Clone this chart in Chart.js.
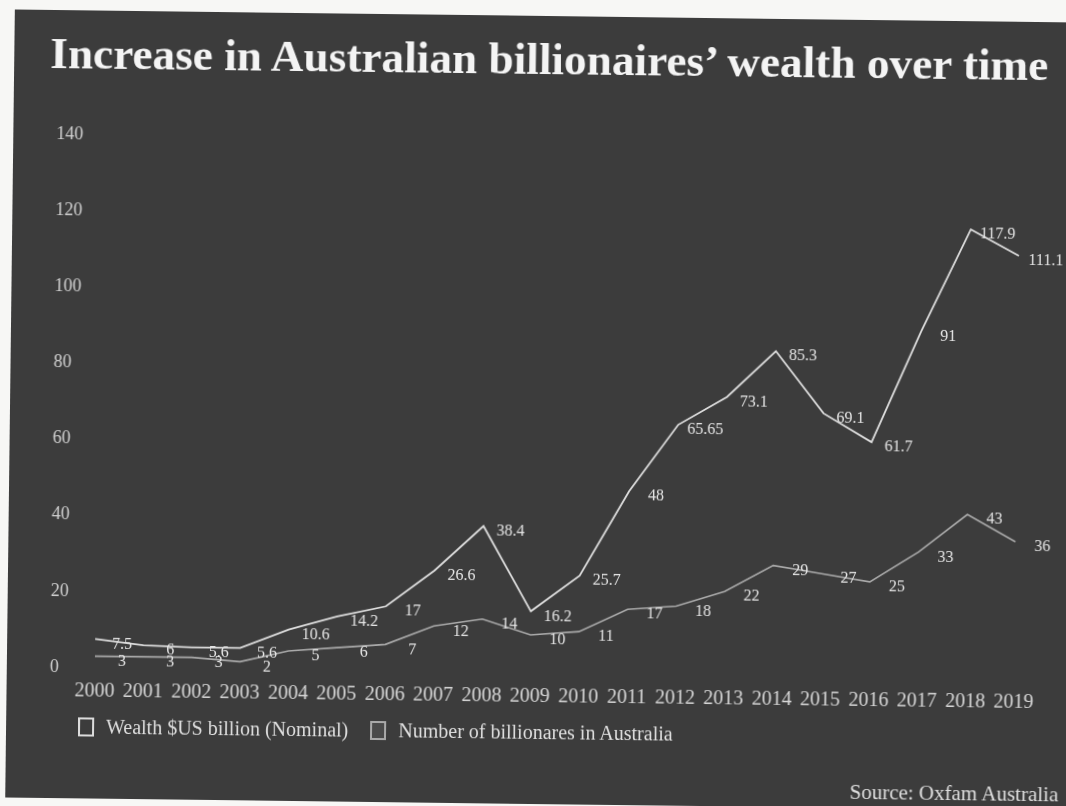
<!DOCTYPE html>
<html lang="en">
<head>
<meta charset="utf-8">
<title>Increase in Australian billionaires’ wealth over time</title>
<script src="https://cdn.jsdelivr.net/npm/chart.js@4.4.1/dist/chart.umd.min.js"></script>
<style>
  html, body {
    margin: 0;
    padding: 0;
    background: #f7f7f5;
    overflow: hidden;
  }
  .lamina {
    position: absolute;
    left: 10px;
    top: 16px;
    width: 1062px;
    height: 788px;
    background: #3c3c3c;
    transform: rotate(0.7deg);
    font-family: "Liberation Serif", "Times New Roman", serif;
  }
  .lamina canvas {
    position: absolute;
    left: 0;
    top: 0;
  }
  .titulo {
    position: absolute;
    left: 36px;
    top: 21px;
    margin: 0;
    font-size: 45.3px;
    font-weight: bold;
    line-height: 45px;
    color: #f4f4f4;
    white-space: nowrap;
  }
  .leyenda {
    position: absolute;
    left: 72px;
    top: 704px;
    display: flex;
    align-items: center;
    font-size: 20px;
    line-height: 24px;
    color: #dedede;
    white-space: nowrap;
  }
  .leyenda .item {
    display: flex;
    align-items: center;
    margin-right: 22px;
  }
  .leyenda .caja {
    display: inline-block;
    width: 12px;
    height: 15px;
    border: 2px solid;
    margin-right: 12px;
  }
  .fuente {
    position: absolute;
    right: 9px;
    top: 760px;
    font-size: 21px;
    line-height: 24px;
    color: #dedede;
  }
</style>
</head>
<body>
<div class="lamina">
  <canvas id="riquezaLineas"></canvas>
  <h1 class="titulo">Increase in Australian billionaires’ wealth over time</h1>
  <div class="leyenda" id="leyenda"></div>
  <div class="fuente">Source: Oxfam Australia</div>
</div>
<script>
let anios = [
  "2000", "2001", "2002", "2003", "2004", "2005", "2006", "2007", "2008", "2009",
  "2010", "2011", "2012", "2013", "2014", "2015", "2016", "2017", "2018", "2019",
];
let riqueza = [
  7.5, 6, 5.6, 5.6, 10.6, 14.2, 17, 26.6, 38.4, 16.2,
  25.7, 48, 65.65, 73.1, 85.3, 69.1, 61.7, 91, 117.9, 111.1,
];
let numeroMillonarios = [
  3, 3, 3, 2, 5, 6, 7, 12, 14, 10,
  11, 17, 18, 22, 29, 27, 25, 33, 43, 36,
];
let marcasY = [0, 20, 40, 60, 80, 100, 120, 140];

const SERIF = "'Liberation Serif', 'Times New Roman', serif";

// numeritos junto a cada punto de las dos lineas
const etiquetasValor = {
  id: "etiquetasValor",
  afterDatasetsDraw(chart) {
    let ctx = chart.ctx;
    ctx.save();
    ctx.font = "16px " + SERIF;
    ctx.fillStyle = "#e4e4e4";
    ctx.textAlign = "center";
    ctx.textBaseline = "middle";
    chart.data.datasets.forEach((ds, i) => {
      chart.getDatasetMeta(i).data.forEach((pt, j) => {
        ctx.fillText(String(ds.data[j]), pt.x + 27, pt.y + 5);
      });
    });
    ctx.restore();
  },
};

// leyenda en html, con los colores de cada serie
function pintarLeyenda(chart) {
  let cont = document.getElementById("leyenda");
  if (!cont) return;
  cont.innerHTML = "";
  chart.data.datasets.forEach((ds) => {
    let item = document.createElement("span");
    item.className = "item";
    let caja = document.createElement("span");
    caja.className = "caja";
    caja.style.borderColor = ds.borderColor;
    caja.style.background = ds.backgroundColor;
    item.appendChild(caja);
    item.appendChild(document.createTextNode(ds.label));
    cont.appendChild(item);
  });
}

function cargarGraficoRiqueza() {
  let canvas = document.getElementById("riquezaLineas");
  if (!canvas) return;

  let datos = {
    labels: anios,
    datasets: [
      {
        label: "Wealth $US billion (Nominal)",
        data: riqueza,
        borderColor: "#dcdcdc",
        backgroundColor: "rgba(0,0,0,0)",
        borderWidth: 1.8,
        tension: 0,
        fill: false,
        pointRadius: 0,
      },
      {
        label: "Number of billionares in Australia",
        data: numeroMillonarios,
        borderColor: "#a9a9a9",
        backgroundColor: "#4a4a4a",
        borderWidth: 1.6,
        tension: 0,
        fill: false,
        pointRadius: 0,
      },
    ],
  };

  let config = {
    type: "line",
    data: datos,
    options: {
      responsive: true,
      maintainAspectRatio: false,
      animation: false,
      layout: {
        padding: { left: 43, right: 55, top: 124, bottom: 83 },
      },
      plugins: {
        title: { display: false },
        legend: { display: false },
        tooltip: { enabled: false },
      },
      scales: {
        x: {
          grid: { display: false, drawTicks: false },
          border: { display: false },
          ticks: {
            color: "#d6d6d6",
            font: { family: SERIF, size: 20 },
            padding: 12,
            maxRotation: 0,
            autoSkip: false,
          },
        },
        y: {
          min: 0,
          max: 140,
          afterBuildTicks: (scale) => {
            scale.ticks = marcasY.map((v) => ({ value: v }));
          },
          afterFit: (scale) => {
            scale.width = 45;
          },
          grid: { display: false, drawTicks: false },
          border: { display: false },
          ticks: {
            color: "#d0d0d0",
            font: { family: SERIF, size: 18 },
            crossAlign: "far",
          },
        },
      },
    },
    plugins: [etiquetasValor],
  };

  let grafico = new Chart(canvas, config);
  pintarLeyenda(grafico);
}

document.addEventListener("DOMContentLoaded", () => {
  cargarGraficoRiqueza();
});
</script>
</body>
</html>
